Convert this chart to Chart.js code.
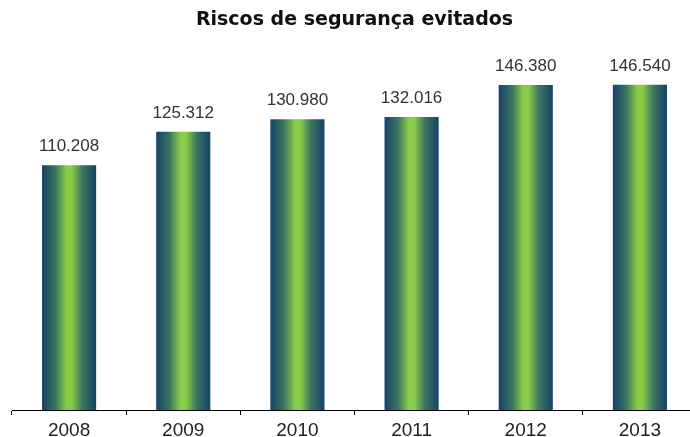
<!DOCTYPE html>
<html><head><meta charset="utf-8">
<script src="https://cdn.jsdelivr.net/npm/chart.js@4/dist/chart.umd.min.js"></script>
<style>
html,body{margin:0;padding:0;overflow:hidden;background:#fff;width:690px;height:437px;}
#wrap{width:700px;height:437px;position:relative;}
</style></head>
<body><div id="wrap"><canvas id="c" width="700" height="437"></canvas></div>
<script>
const categories = ['2008','2009','2010','2011','2012','2013'];
const values = [110208, 125312, 130980, 132016, 146380, 146540];
const chartTitle = 'Riscos de segurança evitados';

const BAR_FRAC = 0.474;
function fmt(v){ return Math.round(v).toLocaleString('pt-BR'); }

const barGradient = (ctx) => {
  const chart = ctx.chart;
  const xs = chart.scales && chart.scales.x;
  if (!xs || ctx.dataIndex === undefined) return '#6aa84f';
  const cx = xs.getPixelForValue(ctx.dataIndex);
  const w = (xs.width / categories.length) * BAR_FRAC;
  if (!isFinite(cx) || !isFinite(w)) return '#6aa84f';
  const g = chart.ctx.createLinearGradient(cx - w/2, 0, cx + w/2, 0);
  g.addColorStop(0, '#164168');
  g.addColorStop(0.25, '#3a7560');
  g.addColorStop(0.45, '#8acb48');
  g.addColorStop(0.55, '#8acb48');
  g.addColorStop(0.75, '#3a7560');
  g.addColorStop(1, '#164168');
  return g;
};

const labelPlugin = {
  id: 'vlabels',
  afterDatasetsDraw(chart){
    const c = chart.ctx;
    const meta = chart.getDatasetMeta(0);
    c.save();
    c.font = '17px "Liberation Sans", Arial, sans-serif';
    c.fillStyle = '#333';
    c.textAlign = 'center';
    c.textBaseline = 'alphabetic';
    meta.data.forEach((b,i)=>{
      c.fillText(fmt(values[i]), b.x, b.y - 14);
    });
    c.restore();
  }
};

new Chart(document.getElementById('c'), {
  type: 'bar',
  data: { labels: categories, datasets: [{ data: values, backgroundColor: barGradient, borderWidth: 0 }] },
  options: {
    responsive: false,
    animation: false,
    devicePixelRatio: 1,
    layout: { padding: { left: 12, right: 3, top: 0, bottom: -9 } },
    categoryPercentage: 1,
    barPercentage: BAR_FRAC,
    plugins: {
      legend: { display: false },
      tooltip: { enabled: false },
      title: { display: true, text: chartTitle, color: '#111',
        font: { family: '"DejaVu Sans", Verdana, sans-serif', size: 19, weight: 'bold', lineHeight: 1.2 },
        padding: { top: 9, bottom: 23 } }
    },
    scales: {
      x: {
        grid: { display: true, drawOnChartArea: false, drawTicks: true, tickLength: 5, color: '#000', offset: true },
        border: { display: true, color: '#000', width: 1 },
        ticks: { color: '#222', padding: 6, font: { family: '"Liberation Sans", Arial, sans-serif', size: 19, lineHeight: 1.0 } }
      },
      y: { display: false, min: 0, max: 160000 }
    }
  },
  plugins: [labelPlugin]
});
</script></body></html>
